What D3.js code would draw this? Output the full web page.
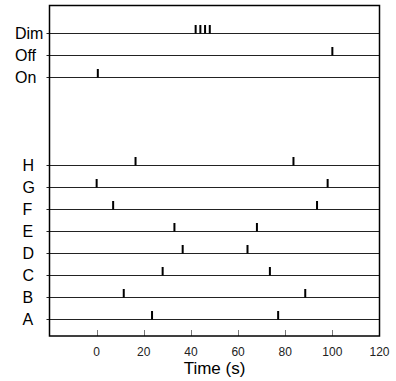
<!DOCTYPE html>
<html>
<head>
<meta charset="utf-8">
<script src="https://cdn.jsdelivr.net/npm/d3@7"></script>
<style>
  html, body { margin: 0; padding: 0; background: #fff; }
  text { font-family: "Liberation Sans", Arial, sans-serif; }
</style>
</head>
<body>
<div id="chart"></div>
<script>
// rows bottom to top; blank slots keep the gap between letters and states
const rowNames = ['A', 'B', 'C', 'D', 'E', 'F', 'G', 'H', '_1', '_2', '_3', 'On', 'Off', 'Dim'];
const stateRows = ['On', 'Off', 'Dim'];

// event times (s) per row
const eventsA = [23.5, 77];
const eventsB = [11.5, 88.5];
const eventsC = [28, 73.5];
const eventsD = [36.5, 64];
const eventsE = [33, 68];
const eventsF = [7, 93.5];
const eventsG = [0, 98];
const eventsH = [16.5, 83.5];
const eventsOn = [0.5];
const eventsOff = [100];
const eventsDim = [42, 44, 46, 48];

const xTicks = [0, 20, 40, 60, 80, 100, 120];

const rows = [
  { name: 'A', times: eventsA },
  { name: 'B', times: eventsB },
  { name: 'C', times: eventsC },
  { name: 'D', times: eventsD },
  { name: 'E', times: eventsE },
  { name: 'F', times: eventsF },
  { name: 'G', times: eventsG },
  { name: 'H', times: eventsH },
  { name: 'On', times: eventsOn },
  { name: 'Off', times: eventsOff },
  { name: 'Dim', times: eventsDim },
];

const width = 396, height = 381;
const box = { left: 49.5, right: 379.5, top: 5.5, bottom: 336 };

const svg = d3.select('#chart')
  .append('svg')
  .attr('width', width)
  .attr('height', height);

const x = d3.scaleLinear().domain([-20, 120]).range([box.left, box.right]);
const y = d3.scalePoint().domain(rowNames).range([319.5, 33.5]);

// bottom axis: inward ticks, labels below
const xAxis = svg.append('g');
xAxis.selectAll('line')
  .data(xTicks.filter(t => t < 120))
  .join('line')
  .attr('x1', d => Math.round(x(d)) + 0.5)
  .attr('x2', d => Math.round(x(d)) + 0.5)
  .attr('y1', box.bottom)
  .attr('y2', box.bottom - 6)
  .attr('stroke', '#777')
  .attr('stroke-width', 1);
xAxis.selectAll('text')
  .data(xTicks)
  .join('text')
  .attr('x', d => x(d))
  .attr('y', 355.5)
  .attr('text-anchor', 'middle')
  .attr('font-size', 12)
  .attr('fill', '#222')
  .text(d => d);

svg.append('text')
  .attr('x', (box.left + box.right) / 2)
  .attr('y', 374)
  .attr('text-anchor', 'middle')
  .attr('font-size', 17)
  .attr('fill', '#000')
  .text('Time (s)');

// row baselines with small outward tick on the left axis
const row = svg.append('g')
  .selectAll('g')
  .data(rows)
  .join('g');

row.append('line')
  .attr('x1', box.left - 3)
  .attr('x2', box.right)
  .attr('y1', d => y(d.name))
  .attr('y2', d => y(d.name))
  .attr('stroke', '#222')
  .attr('stroke-width', 1);

row.append('text')
  .attr('x', d => stateRows.includes(d.name) ? 15 : 22.5)
  .attr('y', d => y(d.name) + 5.5)
  .attr('font-size', 16)
  .attr('fill', '#000')
  .text(d => d.name);

// event spikes
row.selectAll('rect')
  .data(d => d.times.map(t => ({ t, name: d.name })))
  .join('rect')
  .attr('x', d => x(d.t) - 1)
  .attr('y', d => y(d.name) - 8.5)
  .attr('width', 2)
  .attr('height', 8.5)
  .attr('fill', '#000');

// frame
svg.append('rect')
  .attr('x', box.left)
  .attr('y', box.top)
  .attr('width', box.right - box.left)
  .attr('height', box.bottom - box.top)
  .attr('fill', 'none')
  .attr('stroke', '#000')
  .attr('stroke-width', 1.5);
</script>
</body>
</html>
